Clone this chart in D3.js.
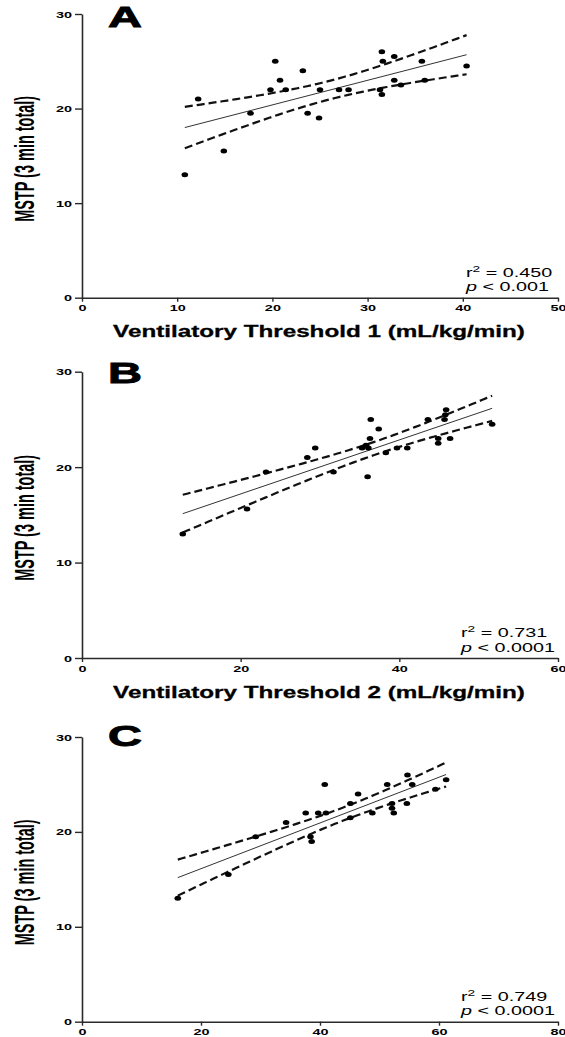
<!DOCTYPE html>
<html><head><meta charset="utf-8">
<script src="https://cdn.jsdelivr.net/npm/d3@7"></script>
<style>html,body{margin:0;padding:0;background:#fff;} svg{display:block;}</style>
</head><body>
<svg id="chart" width="565" height="1037"></svg>
<script>
// ---------- data ----------
const panelLabels = ["A", "B", "C"];
const xTitles = ["Ventilatory Threshold 1 (mL/kg/min)", "Ventilatory Threshold 2 (mL/kg/min)", ""];
const yTitle = "MSTP (3 min total)";
const yTicks = [0, 10, 20, 30];
const xTicksA = [0, 10, 20, 30, 40, 50];
const xTicksB = [0, 20, 40, 60];
const xTicksC = [0, 20, 40, 60, 80];

const vt1X = [10.8, 12.2, 14.9, 17.7, 19.8, 20.3, 20.8, 21.4, 23.2, 23.7, 24.9, 25.0, 27.0, 28.0, 31.3, 31.5, 31.5, 31.6, 32.8, 32.8, 33.5, 35.7, 36.0, 40.4];
const vt1Y = [13, 21, 15.5, 19.5, 22, 25, 23, 22, 24, 19.5, 19, 22, 22, 22, 22, 21.5, 26, 25, 25.5, 23, 22.5, 25, 23, 24.5];

const vt2X = [12.7, 20.8, 23.2, 28.4, 29.4, 31.7, 35.3, 35.8, 36.0, 36.1, 36.3, 36.4, 37.4, 38.3, 39.7, 41.0, 43.6, 44.9, 44.9, 45.7, 45.8, 45.9, 46.4, 51.7];
const vt2Y = [13, 15.6, 19.5, 21, 22, 19.5, 22, 22.3, 19, 22, 23, 25, 24, 21.5, 22, 22, 25, 23, 22.5, 25, 25.5, 26, 23, 24.5];

const cX = [16.1, 24.6, 29.2, 34.3, 37.6, 38.4, 38.6, 39.7, 40.8, 41.0, 45.1, 45.1, 46.4, 48.8, 51.3, 52.1, 52.1, 52.4, 54.6, 54.7, 55.5, 59.4, 61.2];
const cY = [13, 15.5, 19.5, 21, 22, 19.5, 19, 22, 25, 22, 23, 21.5, 24, 22, 25, 23, 22.5, 22, 23, 26, 25, 24.5, 25.5];

const r2Labels = ["0.450", "0.731", "0.749"];
const pLabels = ["< 0.001", "< 0.0001", "< 0.0001"];

// ---------- layout ----------
const SX = 1.52; // horizontal stretch of the original figure
const FONT = "'Liberation Sans', Arial, Helvetica, sans-serif";
const X0 = 82, X1 = 558;
const panelTop = [14, 371.7, 737];
const panelBottom = [297.7, 658, 1021.7];
const letterOffset = [12.5, 11.6, 9];

const panels = [
  {label: panelLabels[0], xs: vt1X, ys: vt1Y, xTicks: xTicksA, title: xTitles[0], r2: r2Labels[0], p: pLabels[0]},
  {label: panelLabels[1], xs: vt2X, ys: vt2Y, xTicks: xTicksB, title: xTitles[1], r2: r2Labels[1], p: pLabels[1]},
  {label: panelLabels[2], xs: cX, ys: cY, xTicks: xTicksC, title: xTitles[2], r2: r2Labels[2], p: pLabels[2]}
];

function tCrit(df) {
  const z = 1.959964;
  return z + (z ** 3 + z) / (4 * df) + (5 * z ** 5 + 16 * z ** 3 + 3 * z) / (96 * df * df);
}
function regress(xs, ys) {
  const n = xs.length, mx = d3.mean(xs), my = d3.mean(ys);
  let sxx = 0, sxy = 0;
  xs.forEach((v, i) => { sxx += (v - mx) ** 2; sxy += (v - mx) * (ys[i] - my); });
  const b = sxy / sxx, a = my - b * mx;
  let sse = 0;
  xs.forEach((v, i) => { sse += (ys[i] - (a + b * v)) ** 2; });
  return {n, mx, sxx, a, b, s: Math.sqrt(sse / (n - 2)), t: tCrit(n - 2)};
}

const svg = d3.select("#chart");

function stretchedText(parent, x, y, anchor, size, weight, target) {
  const t = parent.append("text")
    .attr("x", 0).attr("y", 0)
    .attr("font-family", FONT)
    .attr("font-size", size)
    .attr("font-weight", weight)
    .attr("text-anchor", anchor)
    .attr("fill", "#000");
  t.fit = () => {
    let sx = SX;
    if (target) { const w = t.node().getBBox().width; sx = target / w; }
    t.attr("transform", `translate(${x},${y}) scale(${sx},1)`);
    return t;
  };
  return t;
}

panels.forEach((P, i) => {
  const g = svg.append("g");
  const x = d3.scaleLinear().domain([0, d3.max(P.xTicks)]).range([X0, X1]);
  const y = d3.scaleLinear().domain([0, d3.max(yTicks)]).range([panelBottom[i], panelTop[i]]);

  // axes
  const ya = d3.axisLeft(y).tickValues(yTicks).tickSize(7).tickPadding(3).tickSizeOuter(0).tickFormat(d3.format("d"));
  const xa = d3.axisBottom(x).tickValues(P.xTicks).tickSize(4).tickPadding(3).tickSizeOuter(0).tickFormat(d3.format("d"));
  const gy = g.append("g").attr("transform", `translate(${X0},0)`).call(ya);
  const gx = g.append("g").attr("transform", `translate(0,${panelBottom[i]})`).call(xa);
  [gy, gx].forEach(ax => {
    ax.select(".domain").attr("stroke", "#2a2a2a").attr("stroke-width", 1.6);
    ax.selectAll(".tick line").attr("stroke", "#2a2a2a").attr("stroke-width", 1.4);
    ax.selectAll(".tick text").attr("font-family", FONT).attr("font-size", 9.5).attr("font-weight", "bold").attr("fill", "#000");
  });
  gy.selectAll(".tick text").attr("x", 0).attr("transform", `translate(-10,0) scale(${SX},1)`);
  gx.selectAll(".tick text").attr("transform", `scale(${SX},1)`);

  // regression and 95% confidence bands
  const R = regress(P.xs, P.ys);
  const [xa0, xa1] = d3.extent(P.xs);
  const grid = d3.range(0, 61).map(k => xa0 + (xa1 - xa0) * k / 60);
  const fit = v => R.a + R.b * v;
  const se = v => R.s * Math.sqrt(1 / R.n + (v - R.mx) ** 2 / R.sxx);
  const band = sgn => d3.line().x(v => x(v)).y(v => y(fit(v) + sgn * R.t * se(v)));
  [1, -1].forEach(sgn => {
    g.append("path").datum(grid).attr("d", band(sgn))
      .attr("fill", "none").attr("stroke", "#111").attr("stroke-width", 2.2)
      .attr("stroke-dasharray", "8,4");
  });
  g.append("path").datum([xa0, xa1]).attr("d", d3.line().x(v => x(v)).y(v => y(fit(v))))
    .attr("fill", "none").attr("stroke", "#333").attr("stroke-width", 1);

  // points
  g.append("g").selectAll("ellipse").data(P.xs.map((v, k) => [v, P.ys[k]])).join("ellipse")
    .attr("cx", d => x(d[0])).attr("cy", d => y(d[1]))
    .attr("rx", 3.3).attr("ry", 2.5).attr("fill", "#000");

  // panel letter
  stretchedText(g, 108, y(30) + letterOffset[i], "start", 29, "bold", 34).attr("stroke", "#000").attr("stroke-width", 0.9)
    .text(P.label).fit();

  // y title
  g.append("text")
    .attr("transform", `translate(34,${(panelTop[i] + panelBottom[i]) / 2 + 3}) scale(${SX},1) rotate(-90)`)
    .attr("text-anchor", "middle").attr("font-family", FONT).attr("font-size", 18).attr("font-weight", "bold")
    .attr("textLength", 126).attr("lengthAdjust", "spacingAndGlyphs")
    .text(yTitle);

  // x title
  if (P.title) {
    stretchedText(g, 319, panelBottom[i] + 39.5, "middle", 17, "bold", 412).attr("stroke", "#000").attr("stroke-width", 0.3)
      .text(P.title).fit();
  }

  // statistics annotation
  const ax0 = i === 0 ? 466 : 461;
  const t1 = stretchedText(g, ax0, panelBottom[i] - 21, "start", 13, "normal", null);
  t1.append("tspan").text("r");
  t1.append("tspan").attr("font-size", 9).attr("dy", -5).text("2");
  t1.append("tspan").attr("dy", 5).text(" = " + P.r2);
  t1.fit();
  const t2 = stretchedText(g, ax0, panelBottom[i] - 6.5, "start", 13, "normal", null);
  t2.append("tspan").attr("font-style", "italic").text("p");
  t2.append("tspan").text(" " + P.p);
  t2.fit();
});
</script>
</body></html>
